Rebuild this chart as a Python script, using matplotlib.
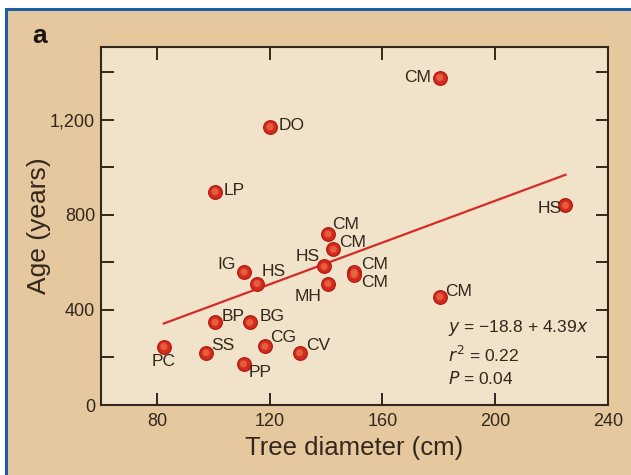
import matplotlib
matplotlib.use('Agg')
import matplotlib.pyplot as plt
from matplotlib.patches import Rectangle

# Tree diameter (cm) and age (years)
diameter = [82.4, 97.4, 110.7, 100.6, 112.9, 118.3, 130.6, 110.9, 115.5, 139.3,
            140.7, 140.7, 142.6, 150.0, 150.0, 180.4, 120.1, 100.6, 180.4, 225.0]
age = [246, 220, 173, 348, 348, 247, 220, 560, 511, 583,
       511, 720, 655, 560, 549, 1378, 1171, 898, 456, 840]
species = ['PC', 'SS', 'PP', 'BP', 'BG', 'CG', 'CV', 'IG', 'HS', 'HS',
           'MH', 'CM', 'CM', 'CM', 'CM', 'CM', 'DO', 'LP', 'CM', 'HS']

# regression y = a + b x
fit_a = -18.8
fit_b = 4.39
fit_range = [82.4, 225.0]

x_ticks = [80, 120, 160, 200, 240]
y_ticks = [0, 200, 400, 600, 800, 1000, 1200, 1400]
y_labels = ['0', '', '400', '', '800', '', '1,200', '']

# label offsets in points (dx, dy, ha)
offsets = [(0, -11, 'center'), (4, 5, 'left'), (4, -6, 'left'), (5, 4, 'left'),
           (7, 4, 'left'), (4, 6, 'left'), (5, 5, 'left'), (-6, 5, 'right'),
           (3, 9, 'left'), (-3, 7, 'right'), (-5, -9, 'right'), (3, 7, 'left'),
           (4, 5, 'left'), (5, 5, 'left'), (5, -6, 'left'), (-6, 0, 'right'),
           (6, 1, 'left'), (6, 1, 'left'), (4, 4, 'left'), (-3, -2, 'right')]

plt.rcParams['font.family'] = ['Liberation Sans', 'DejaVu Sans']

ink = '#33271d'
fig = plt.figure(figsize=(6.31, 4.75), dpi=100)
fig.patch.set_facecolor('white')
# tan panel with blue frame
fig.patches.append(Rectangle((6 / 631, -0.05), (631 - 6) / 631 + 0.02, (475 - 8.5) / 475 + 0.05,
                             transform=fig.transFigure, facecolor='#e6c89e',
                             edgecolor='#1c5ea6', linewidth=2.2, zorder=-1))

ax = fig.add_axes([100.7 / 631, 1 - 405 / 475, (607.7 - 100.7) / 631, (405 - 46.7) / 475])
ax.set_facecolor('#f1e3c9')
ax.set_xlim(60, 240)
ax.set_ylim(0, 1508)

for s in ax.spines.values():
    s.set_color(ink)
    s.set_linewidth(1.5)

ax.set_xticks(x_ticks)
ax.set_yticks(y_ticks)
ax.set_yticklabels(y_labels)
ax.tick_params(direction='in', length=9, width=1.4, color=ink, labelcolor=ink,
               labelsize=13, top=True, right=True, pad=6)
ax.tick_params(axis='y', pad=4)

ax.plot(fit_range, [fit_a + fit_b * v for v in fit_range], color='#d52a26', lw=1.6, zorder=2)

ax.scatter(diameter, age, s=95, color='#d42b1e', edgecolors='#b51d14', linewidths=1.0, zorder=3)
ax.scatter(diameter, age, s=26, color='#ea6a45', edgecolors='none', alpha=0.8, zorder=4)

for x, y, name, (dx, dy, ha) in zip(diameter, age, species, offsets):
    ax.annotate(name, (x, y), xytext=(dx, dy), textcoords='offset points',
                ha=ha, va='center', fontsize=12.5, color=ink, zorder=5)

ax.text(448 / 631, 1 - 328 / 475, '$y$ = \u221218.8 + 4.39$x$',
        transform=fig.transFigure, fontsize=12.5, color=ink, va='center')
ax.text(448 / 631, 1 - 355 / 475, r'$r^2$ = 0.22', transform=fig.transFigure,
        fontsize=12.5, color=ink, va='center')
ax.text(448 / 631, 1 - 378 / 475, r'$P$ = 0.04', transform=fig.transFigure,
        fontsize=12.5, color=ink, va='center')

ax.set_xlabel('Tree diameter (cm)', fontsize=18.5, color=ink, labelpad=4)
ax.set_ylabel('Age (years)', fontsize=19, color=ink, labelpad=-1)

fig.text(40 / 631, 1 - 36 / 475, 'a', fontsize=19, fontweight='bold', color='#1a1410',
         ha='center', va='center')

fig.savefig('out.png', dpi=100, facecolor=fig.get_facecolor())
